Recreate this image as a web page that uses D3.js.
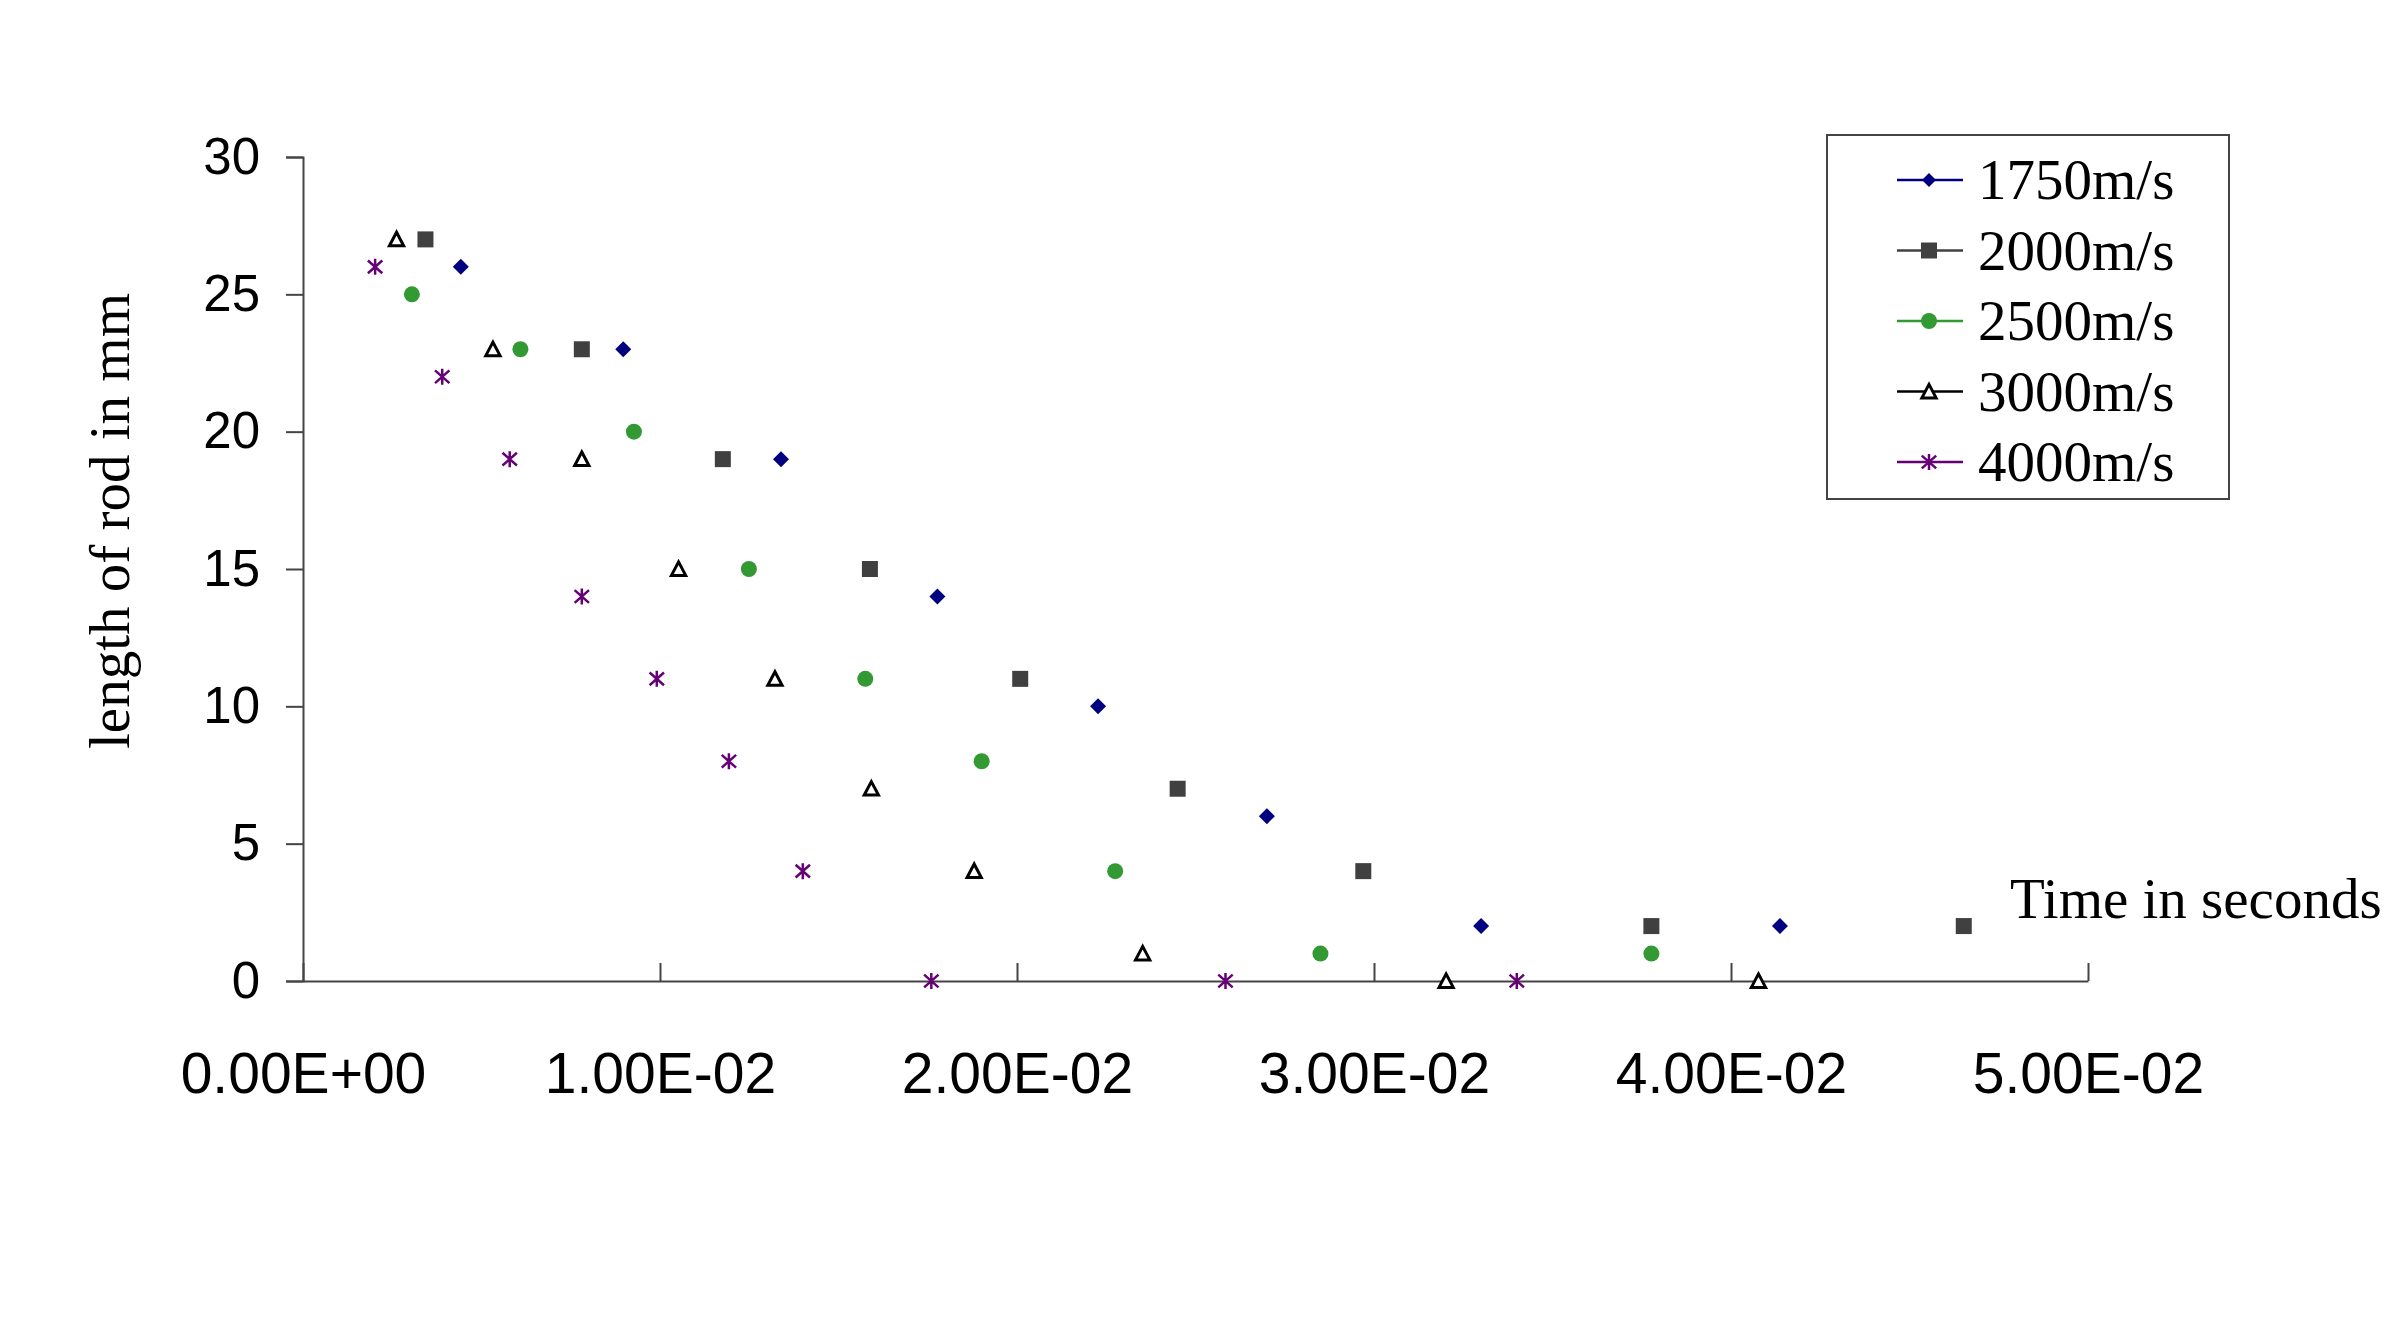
<!DOCTYPE html>
<html>
<head>
<meta charset="utf-8">
<script src="https://d3js.org/d3.v7.min.js"></script>
<title>Length of rod vs time</title>
</head>
<style>
body { margin: 0; background: #fff; }
svg { display: block; }
.tick text { font-family: "Liberation Sans", Arial, sans-serif; fill: #000; }
</style>
<body>
<svg width="2400" height="1318"></svg>
</body>
<script>

// series names, colours and marker shapes
let seriesNames = ["1750m/s", "2000m/s", "2500m/s", "3000m/s", "4000m/s"];
let seriesColors = ["#000080", "#404040", "#339933", "#000000", "#660077"];
let seriesShapes = ["diamond", "square", "circle", "triangle", "star"];

// [time in s, length in mm]
let v1750 = [[0.00442,26],[0.00897,23],[0.01339,19],[0.01777,14],[0.02227,10],[0.0270,6],[0.0330,2],[0.04137,2]];
let v2000 = [[0.00343,27],[0.00781,23],[0.01176,19],[0.01588,15],[0.02009,11],[0.0245,7],[0.0297,4],[0.03777,2],[0.04652,2]];
let v2500 = [[0.00305,25],[0.00609,23],[0.00927,20],[0.01249,15],[0.01575,11],[0.01901,8],[0.02275,4],[0.0285,1],[0.03777,1]];
let v3000 = [[0.00262,27],[0.00532,23],[0.00781,19],[0.01052,15],[0.01322,11],[0.01592,7],[0.0188,4],[0.02352,1],[0.03202,0],[0.04077,0]];
let v4000 = [[0.00202,26],[0.0039,22],[0.00579,19],[0.00781,14],[0.00991,11],[0.01193,8],[0.0140,4],[0.0176,0],[0.02584,0],[0.0340,0]];
let seriesValues = [v1750, v2000, v2500, v3000, v4000];

let xTicks = [0, 0.01, 0.02, 0.03, 0.04, 0.05];
let xTickLabels = ["0.00E+00", "1.00E-02", "2.00E-02", "3.00E-02", "4.00E-02", "5.00E-02"];
let yTicks = [0, 5, 10, 15, 20, 25, 30];

let plotLeft = 303, plotRight = 2088, plotTop = 157, plotBottom = 981;

let svg = d3.select("svg");

let x = d3.scaleLinear().domain([0, 0.05]).range([plotLeft, plotRight]);
let y = d3.scaleLinear().domain([0, 30]).range([plotBottom, plotTop]);

// marker path centred on 0,0
function markerPath(shape, s) {
  let h = s / 2;
  if (shape == "diamond") return "M0," + (-h) + "L" + h + ",0L0," + h + "L" + (-h) + ",0Z";
  if (shape == "square") return "M" + (-h) + "," + (-h) + "h" + s + "v" + s + "h" + (-s) + "Z";
  if (shape == "triangle") return "M0," + (-h * 0.95) + "L" + (h * 0.95) + "," + (h * 0.85) + "L" + (-h * 0.95) + "," + (h * 0.85) + "Z";
  if (shape == "star") {
    let d = h * 0.9;
    return "M0," + (-h) + "V" + h + "M" + (-d) + "," + (-h * 0.8) + "L" + d + "," + (h * 0.8) +
      "M" + d + "," + (-h * 0.8) + "L" + (-d) + "," + (h * 0.8);
  }
  return "";
}

function drawMarker(g, shape, color, s) {
  if (shape == "circle") {
    g.append("circle").attr("r", s / 2).attr("fill", color);
  } else if (shape == "triangle") {
    g.append("path").attr("d", markerPath(shape, s - 1)).attr("fill", "white")
      .attr("stroke", color).attr("stroke-width", 3).attr("stroke-linejoin", "miter");
  } else if (shape == "star") {
    g.append("path").attr("d", markerPath(shape, s)).attr("fill", "none")
      .attr("stroke", color).attr("stroke-width", 2.5);
  } else {
    g.append("path").attr("d", markerPath(shape, s)).attr("fill", color);
  }
}

// axes
let yAxis = d3.axisLeft(y).tickValues(yTicks).tickSize(17).tickPadding(26);
let gy = svg.append("g").attr("transform", "translate(" + plotLeft + ",0)").call(yAxis);
gy.selectAll("text").style("font-size", "51px");

let xAxis = d3.axisBottom(x).tickValues(xTicks).tickSizeInner(-18).tickSizeOuter(0).tickPadding(72)
  .tickFormat(function(d, i) { return xTickLabels[i]; });
let gx = svg.append("g").attr("transform", "translate(0," + plotBottom + ")").call(xAxis);
gx.selectAll("text").style("font-size", "57px");

svg.selectAll(".domain, .tick line").attr("stroke", "#444").attr("stroke-width", 2);

// points
seriesValues.forEach(function(vals, i) {
  let g = svg.append("g");
  g.selectAll("g").data(vals).enter().append("g")
    .attr("transform", function(d) { return "translate(" + x(d[0]) + "," + y(d[1]) + ")"; })
    .each(function() { drawMarker(d3.select(this), seriesShapes[i], seriesColors[i], 16); });
});

// axis titles
svg.append("text")
  .attr("transform", "translate(129,521) rotate(-90)")
  .attr("text-anchor", "middle")
  .style("font-family", "'Liberation Serif', 'Times New Roman', serif")
  .style("font-size", "57px")
  .text("length of rod in mm");

svg.append("text")
  .attr("x", 2010).attr("y", 918)
  .style("font-family", "'Liberation Serif', 'Times New Roman', serif")
  .style("font-size", "57px")
  .text("Time in seconds");

// legend
let legend = svg.append("g");
legend.append("rect").attr("x", 1827).attr("y", 135).attr("width", 402).attr("height", 364)
  .attr("fill", "white").attr("stroke", "#444").attr("stroke-width", 2);

seriesNames.forEach(function(name, i) {
  let cy = 180 + i * 70.5;
  let row = legend.append("g").attr("transform", "translate(0," + cy + ")");
  row.append("line").attr("x1", 1897).attr("x2", 1963).attr("y1", 0).attr("y2", 0)
    .attr("stroke", seriesColors[i]).attr("stroke-width", 2.5);
  let m = row.append("g").attr("transform", "translate(1929,0)");
  drawMarker(m, seriesShapes[i], seriesColors[i], i == 0 ? 14 : 16);
  row.append("text").attr("x", 1978).attr("y", 19)
    .style("font-family", "'Liberation Serif', 'Times New Roman', serif")
    .style("font-size", "57px")
    .text(name);
});

</script>
</html>
